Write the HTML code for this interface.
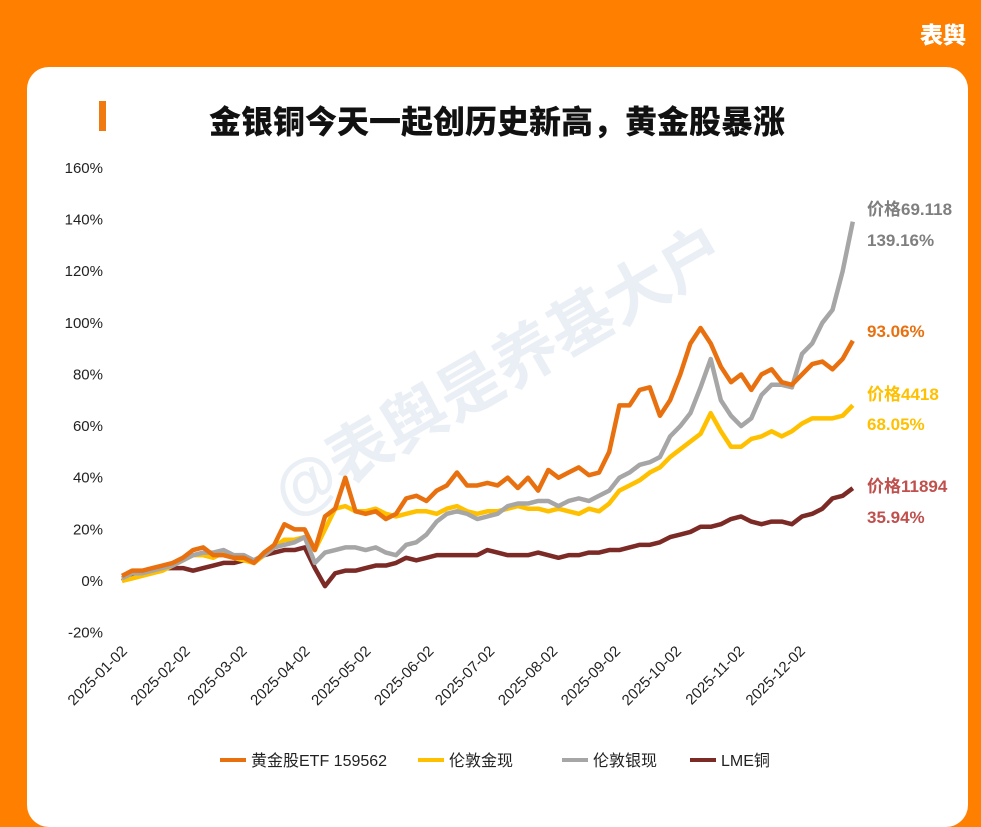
<!DOCTYPE html>
<html><head><meta charset="utf-8"><style>
body{margin:0;width:981px;height:801px;overflow:hidden;background:#FF7F00;font-family:"Liberation Sans","Noto Sans CJK SC",sans-serif;}
#card{position:absolute;left:27px;top:67px;width:941px;height:760px;background:#fff;border-radius:22px;}
</style></head><body>
<div style="position:absolute;left:920px;top:16px;color:#fff;font:900 23px 'Noto Sans CJK SC',sans-serif;">表舆</div>
<div id="card"></div>
<svg id="chart" width="981" height="801" style="position:absolute;left:0;top:0">
<text x="510" y="390" transform="rotate(-30 510 390)" text-anchor="middle" font-size="64" font-weight="bold" fill="#E6ECF4" opacity="0.8" font-family="Liberation Sans,Noto Sans CJK SC,sans-serif">@表舆是养基大户</text>
<rect x="99" y="101" width="7" height="30" fill="#F07A10"/>
<text x="497" y="133" text-anchor="middle" font-size="32" font-weight="900" fill="#111" font-family="Noto Sans CJK SC,sans-serif">金银铜今天一起创历史新高，黄金股暴涨</text>
<g id="yaxis"></g><g id="xaxis"></g><g id="lines"></g><g id="endlabels"></g><g id="legend"></g>
</svg>
<script>
const days=[0,5,10,15,20,25,30,35,40,45,50,55,60,65,70,75,80,85,90,95,100,105,110,115,120,125,130,135,140,145,150,155,160,165,170,175,180,185,190,195,200,205,210,215,220,225,230,235,240,245,250,255,260,265,270,275,280,285,290,295,300,305,310,315,320,325,330,335,340,345,350,355,360];
const etf=[2,4,4,5,6,7,9,12,13,10,10,9,9,7,11,14,22,20,20,12,25,28,40,27,26,27,24,26,32,33,31,35,37,42,37,37,38,37,40,36,40,35,43,40,42,44,41,42,50,68,68,74,75,64,70,80,92,98,92,83,77,80,74,80,82,77,76,80,84,85,82,86,93.06];
const gold=[0,1,2,3,4,6,8,10,10,9,11,9,8,7,10,13,16,16,17,12,20,28,29,27,27,28,26,25,26,27,27,26,28,29,27,26,27,27,28,29,28,28,27,28,27,26,28,27,30,35,37,39,42,44,48,51,54,57,65,58,52,52,55,56,58,56,58,61,63,63,63,64,68.05];
const silver=[1,3,3,4,5,6,8,10,11,11,12,10,10,8,10,13,14,15,17,7,11,12,13,13,12,13,11,10,14,15,18,23,26,27,26,24,25,26,29,30,30,31,31,29,31,32,31,33,35,40,42,45,46,48,56,60,65,75,86,70,64,60,63,72,76,76,75,88,92,100,105,120,139.16];
const copper=[0,2,3,4,5,5,5,4,5,6,7,7,8,8,10,11,12,12,13,5,-2,3,4,4,5,6,6,7,9,8,9,10,10,10,10,10,12,11,10,10,10,11,10,9,10,10,11,11,12,12,13,14,14,15,17,18,19,21,21,22,24,25,23,22,23,23,22,25,26,28,32,33,35.94];
const yTicks=[-20,0,20,40,60,80,100,120,140,160];
const xTickDays=[0,31,59,90,120,151,181,212,243,273,304,334];
const xTickLabels=["2025-01-02","2025-02-02","2025-03-02","2025-04-02","2025-05-02","2025-06-02","2025-07-02","2025-08-02","2025-09-02","2025-10-02","2025-11-02","2025-12-02"];
const seriesNames=["黄金股ETF 159562","伦敦金现","伦敦银现","LME铜"];
const NS="http://www.w3.org/2000/svg";
const F="Liberation Sans,Noto Sans CJK SC,sans-serif";
const xS=d=>122+d*2.03;
const yS=v=>581-v*2.582;
function mk(t,a,p){const e=document.createElementNS(NS,t);for(const k in a)e.setAttribute(k,a[k]);p.appendChild(e);return e;}
const ya=document.getElementById('yaxis');
yTicks.forEach(v=>{const t=mk('text',{x:103,y:yS(v)+5,'text-anchor':'end','font-size':15,fill:'#222','font-family':F},ya);t.textContent=v+'%';

});
const xa=document.getElementById('xaxis');
xTickDays.forEach((d,i)=>{const x=xS(d)+6,y=652;const t=mk('text',{x:x,y:y,'text-anchor':'end','font-size':15,fill:'#222','font-family':F,transform:`rotate(-45 ${x} ${y})`},xa);t.textContent=xTickLabels[i];

});
const colors=["#E8700F","#FFC000","#A6A6A6","#7B2A25"];
const data=[etf,gold,silver,copper];
const order=[3,1,2,0];
const lg=document.getElementById('lines');
order.forEach(i=>{const p=mk('polyline',{points:data[i].map((v,j)=>xS(days[j])+','+yS(v)).join(' '),fill:'none',stroke:colors[i],'stroke-width':4.5,'stroke-linejoin':'round'},lg);

});
const el=document.getElementById('endlabels');
[["价格69.118",215,"#7F7F7F"],["139.16%",246,"#7F7F7F"],["93.06%",337,"#E8700F"],["价格4418",400,"#FFC000"],["68.05%",430,"#FFC000"],["价格11894",492,"#C0504D"],["35.94%",523,"#C0504D"]].forEach(a=>{const t=mk('text',{x:867,y:a[1],'font-size':17,'font-weight':'bold',fill:a[2],'font-family':F},el);t.textContent=a[0];

});
const lgd=document.getElementById('legend');
const lx=[220,418,562,690];
seriesNames.forEach((n,i)=>{const g=mk('g',{},lgd);


mk('line',{x1:lx[i],y1:760,x2:lx[i]+26,y2:760,stroke:colors[i],'stroke-width':4},g);
const t=mk('text',{x:lx[i]+31,y:766,'font-size':16,fill:'#222','font-family':F},g);t.textContent=n;});
</script>
</body></html>
